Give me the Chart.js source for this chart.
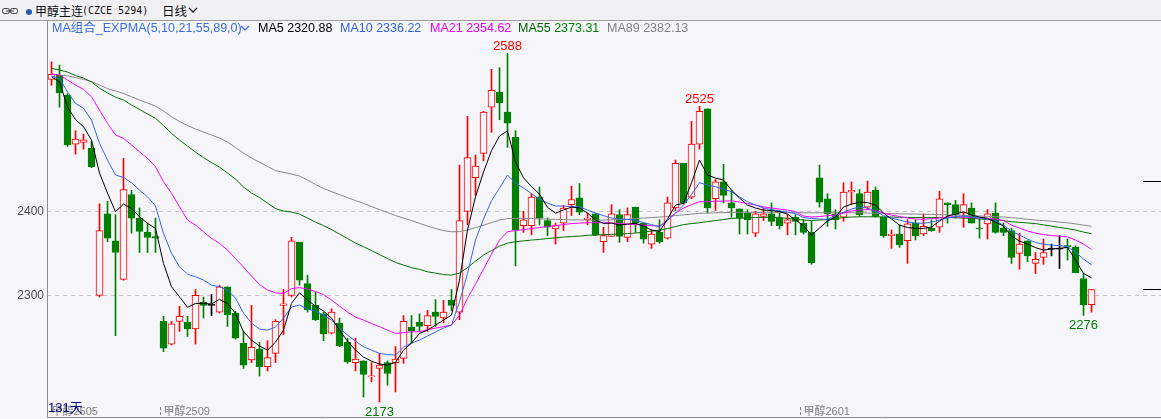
<!DOCTYPE html>
<html lang="zh-CN">
<head>
<meta charset="utf-8">
<title>甲醇主连 日线</title>
<script src="https://cdn.jsdelivr.net/npm/chart.js@4.4.1/dist/chart.umd.min.js"></script>
<style>
  html, body { margin:0; padding:0; background:#f5f5fa; }
  #wrap { position:relative; width:1161px; height:419px; overflow:hidden; background:#f5f5fa;
          font-family:"Liberation Sans","Noto Sans CJK SC",sans-serif; }
  #chart { position:absolute; left:0; top:0; }
  #hdr { position:absolute; left:0; top:0; width:1161px; height:20px; background:#f0f0f2; border-bottom:1px solid #a0a0a0; }
  .t { position:absolute; white-space:nowrap; }
  .hd { top:3px; line-height:16px; height:16px; }
  .lg { top:21px; line-height:14px; height:14px; font-size:12.5px; }
</style>
</head>
<body>
<div id="wrap">
  <canvas id="chart" width="1161" height="419"></canvas>
  <div id="hdr">
    <svg class="t" style="left:2px;top:7px" width="16" height="8" viewBox="0 0 16 8">
      <rect x="0.5" y="1.5" width="7" height="5" rx="2" fill="none" stroke="#333" stroke-width="1"/>
      <rect x="8.5" y="1.5" width="7" height="5" rx="2" fill="none" stroke="#333" stroke-width="1"/>
      <line x1="4" y1="4" x2="12" y2="4" stroke="#333" stroke-width="1"/>
    </svg>
    <svg class="t" style="left:25px;top:8px" width="8" height="8"><circle cx="4" cy="4" r="3" fill="#2a5aa8"/></svg>
    <span class="t hd" style="left:35px;font:12px 'Noto Sans CJK SC';line-height:16px;color:#111">甲醇主连</span>
    <span class="t hd" style="left:82px;font:10px 'DejaVu Sans Mono';line-height:16px;color:#111">(CZCE 5294)</span>
    <span class="t hd" style="left:162px;font:12.5px 'Noto Sans CJK SC';line-height:16px;color:#111">日线</span>
    <svg class="t" style="left:188px;top:7px" width="10" height="7"><polyline points="1,1 5,5 9,1" fill="none" stroke="#222" stroke-width="1.3"/></svg>
  </div>
  <div id="legend"></div>
</div>
<script>
// ---------- data ----------
const opens = [2557,2562,2538,2480,2482,2475,2300,2397,2365,2319,
2420,2392,2375,2370,2269,2242,2269,2268,2260,2292,
2288,2280,2310,2279,2243,2223,2236,2215,2231,2288,
2300,2363,2314,2288,2278,2255,2267,2244,2220,2222,
2203,2213,2220,2220,2225,2262,2268,2264,2280,2273,
2294,2280,2400,2440,2469,2524,2542,2518,2488,2383,
2383,2417,2389,2379,2386,2408,2416,2390,2397,2364,
2370,2396,2369,2405,2386,2361,2375,2368,2404,2457,
2417,2480,2522,2415,2435,2410,2403,2398,2374,2394,
2397,2392,2386,2393,2386,2375,2440,2415,2397,2393,
2423,2421,2405,2425,2393,2371,2373,2365,2386,2373,
2380,2381,2410,2408,2398,2404,2380,2385,2398,2380,
2377,2350,2365,2338,2345,2355,2355,2359,2357,2320,
2289];
const highs = [2578,2574,2540,2496,2492,2483,2409,2412,2396,2463,
2425,2404,2386,2392,2275,2269,2287,2275,2307,2298,
2301,2312,2310,2281,2257,2288,2244,2246,2271,2307,
2369,2363,2324,2304,2280,2284,2273,2249,2249,2222,
2220,2231,2222,2239,2276,2276,2278,2282,2295,2294,
2307,2455,2513,2467,2519,2569,2571,2588,2496,2400,
2421,2429,2392,2386,2407,2430,2433,2398,2398,2381,
2408,2402,2404,2405,2386,2378,2390,2417,2461,2457,
2507,2525,2522,2438,2456,2425,2403,2402,2400,2404,
2410,2401,2396,2396,2390,2388,2455,2421,2402,2434,
2435,2426,2436,2429,2393,2378,2384,2390,2390,2397,
2390,2424,2410,2413,2421,2410,2392,2402,2410,2386,
2380,2374,2365,2351,2367,2361,2371,2367,2359,2326,
2307];
const lows = [2550,2524,2477,2468,2474,2452,2298,2364,2252,2318,
2374,2351,2351,2351,2233,2241,2257,2251,2242,2273,
2276,2279,2263,2248,2213,2220,2204,2210,2220,2253,
2298,2312,2280,2270,2246,2254,2239,2219,2210,2179,
2197,2173,2193,2185,2219,2243,2257,2257,2263,2267,
2282,2271,2384,2419,2460,2494,2509,2476,2335,2375,
2372,2384,2371,2361,2377,2395,2396,2384,2371,2351,
2370,2363,2364,2375,2362,2356,2362,2367,2401,2409,
2415,2474,2398,2401,2410,2393,2373,2373,2370,2389,
2383,2379,2372,2372,2373,2337,2405,2382,2379,2388,
2408,2394,2402,2393,2369,2356,2357,2338,2366,2371,
2376,2375,2386,2392,2381,2386,2368,2367,2374,2371,
2338,2331,2340,2326,2337,2347,2332,2342,2327,2276,
2280];
const closes = [2563,2541,2479,2486,2485,2453,2377,2368,2351,2426,
2392,2376,2369,2368,2237,2266,2275,2260,2300,2288,
2288,2310,2277,2249,2217,2238,2215,2226,2269,2290,
2365,2318,2283,2271,2254,2280,2240,2221,2224,2206,
2204,2217,2207,2224,2269,2258,2263,2276,2275,2280,
2288,2389,2464,2454,2518,2544,2529,2505,2378,2390,
2417,2392,2381,2383,2404,2414,2399,2392,2372,2371,
2397,2370,2396,2386,2367,2373,2364,2410,2457,2410,
2480,2519,2404,2435,2419,2404,2392,2390,2397,2397,
2388,2383,2390,2388,2375,2339,2411,2397,2390,2423,
2425,2396,2423,2394,2371,2373,2360,2385,2371,2382,
2377,2415,2408,2396,2408,2386,2379,2397,2375,2375,
2345,2361,2347,2343,2351,2355,2355,2358,2327,2289,
2307];

const ma5 = [2560.2,2554.2,2524.1,2509.2,2500.7,2484.8,2445.5,2421.7,2399.5,2408.6,
2403.5,2393.5,2385.7,2379.7,2338.0,2310.2,2298.3,2285.7,2290.4,2290.4,
2289.6,2295.2,2290.4,2278.5,2256.6,2246.7,2239.6,2234.8,2244.3,2258.6,
2290.4,2303.0,2294.4,2287.2,2281.3,2272.9,2258.6,2245.5,2234.8,2226.5,
2221.7,2218.2,2217.0,2220.2,2234.8,2243.2,2254.7,2258.6,2264.6,2270.5,
2276.5,2318.2,2377.7,2417.3,2446.7,2472.3,2489.6,2495.9,2458.6,2439.9,
2429.5,2420.5,2404.7,2397.9,2401.5,2405.1,2403.9,2397.9,2389.6,2385.7,
2386.0,2383.6,2384.8,2385.7,2382.4,2377.7,2375.7,2390.8,2407.5,2409.5,
2434.0,2461.0,2443.2,2439.6,2437.2,2425.3,2415.8,2407.5,2403.9,2401.5,
2400.9,2399.7,2396.7,2389.6,2383.0,2371.7,2380.1,2388.4,2393.2,2405.1,
2408.6,2411.0,2410.4,2407.5,2397.9,2390.8,2383.6,2380.7,2379.7,2379.7,
2381.2,2388.4,2394.4,2396.7,2399.5,2395.5,2393.2,2391.6,2387.2,2382.4,
2370.5,2364.6,2361.0,2356.8,2353.9,2355.1,2355.9,2357.1,2342.0,2326.1,
2320.88];
const ma10 = [2561.0,2558.3,2542.3,2528.5,2522.6,2508.6,2480.9,2461.0,2443.2,2440.4,
2434.0,2425.3,2417.3,2406.3,2373.8,2350.0,2334.0,2325.3,2322.1,2318.2,
2312.2,2310.2,2306.3,2296.7,2278.9,2267.0,2259.8,2258.6,2262.2,2272.9,
2286.0,2288.4,2283.6,2281.3,2276.5,2270.5,2261.0,2252.7,2245.5,2238.8,
2234.8,2230.9,2229.5,2228.9,2238.4,2243.2,2246.7,2251.5,2256.3,2261.0,
2264.6,2292.3,2326.1,2365.8,2390.8,2412.6,2427.7,2443.2,2433.6,2427.7,
2421.1,2414.6,2409.8,2406.3,2406.3,2405.7,2405.4,2401.5,2397.9,2394.9,
2392.0,2390.8,2390.4,2389.6,2386.6,2384.2,2381.6,2389.1,2397.9,2407.5,
2420.0,2434.0,2431.3,2429.3,2426.5,2423.3,2417.0,2411.4,2407.5,2403.9,
2402.1,2400.3,2399.1,2397.3,2392.6,2391.4,2390.8,2390.4,2394.4,2399.1,
2402.7,2405.1,2403.9,2400.3,2394.9,2392.0,2389.6,2387.2,2386.0,2385.7,
2387.2,2389.6,2392.0,2393.8,2394.4,2393.2,2392.0,2390.4,2388.4,2383.6,
2376.5,2371.7,2367.0,2362.8,2361.0,2359.8,2359.2,2358.0,2351.5,2343.2,
2336.22];
const ma21 = [2563.4,2562.2,2556.3,2550.3,2545.2,2536.4,2520.5,2504.7,2490.8,2486.8,
2478.9,2470.9,2463.1,2453.0,2435.2,2421.4,2405.4,2389.6,2383.6,2375.7,
2367.8,2361.8,2353.9,2343.8,2333.6,2322.9,2312.8,2306.3,2303.0,2302.3,
2308.0,2309.2,2307.4,2304.5,2300.9,2294.4,2287.2,2280.1,2274.1,2270.5,
2266.4,2262.6,2258.6,2254.7,2255.6,2256.6,2256.6,2259.2,2261.0,2262.8,
2264.6,2276.5,2296.4,2313.4,2331.2,2349.1,2365.8,2375.7,2377.1,2378.3,
2379.5,2380.7,2381.9,2383.0,2384.2,2385.4,2386.0,2386.4,2386.6,2386.4,
2386.0,2385.4,2384.8,2384.2,2383.6,2383.0,2382.4,2389.6,2397.9,2403.9,
2408.0,2411.4,2411.6,2412.0,2412.2,2412.5,2411.0,2409.2,2407.5,2405.4,
2403.9,2402.7,2401.5,2399.7,2394.4,2393.2,2393.8,2394.9,2395.5,2397.9,
2400.3,2401.5,2402.1,2400.9,2397.9,2395.5,2393.8,2392.0,2390.8,2390.4,
2391.4,2392.0,2393.2,2393.5,2393.2,2392.6,2392.0,2391.6,2390.8,2389.0,
2383.6,2380.1,2376.5,2374.1,2372.3,2371.1,2370.5,2369.4,2365.8,2361.0,
2354.62];
const ma55 = [2570.2,2568.2,2565.8,2561.6,2558.6,2553.9,2546.7,2540.8,2536.0,2532.5,
2526.5,2521.4,2515.8,2510.7,2502.1,2492.8,2484.8,2477.7,2470.5,2464.0,
2458.0,2452.7,2445.5,2438.4,2428.9,2421.7,2416.4,2409.8,2403.3,2400.3,
2399.1,2396.7,2392.0,2387.2,2383.0,2378.3,2372.9,2367.6,2362.2,2357.8,
2353.3,2348.5,2343.8,2339.2,2336.0,2333.0,2330.9,2328.0,2326.5,2324.7,
2324.1,2326.5,2333.0,2340.8,2347.9,2353.3,2358.6,2362.2,2363.8,2364.8,
2365.8,2366.6,2367.6,2368.4,2369.4,2370.0,2370.5,2371.5,2371.7,2372.3,
2372.6,2372.9,2373.5,2374.1,2375.3,2376.5,2377.4,2379.5,2381.9,2384.2,
2385.4,2386.4,2387.8,2389.0,2390.2,2391.6,2392.0,2392.2,2392.6,2392.8,
2392.9,2392.8,2391.4,2390.8,2389.6,2389.0,2389.6,2390.2,2391.4,2392.6,
2393.2,2393.5,2393.5,2393.5,2393.4,2393.2,2392.9,2392.8,2392.6,2392.6,
2392.6,2392.6,2392.6,2392.3,2392.0,2391.6,2391.0,2390.4,2390.2,2389.0,
2387.6,2386.9,2386.2,2385.4,2383.9,2382.4,2380.7,2379.5,2377.7,2375.3,
2373.31];
const ma89 = [2563.4,2562.2,2561.3,2559.2,2557.1,2554.5,2550.3,2546.1,2543.2,2540.4,
2536.4,2532.5,2528.9,2525.3,2519.4,2512.6,2506.9,2502.1,2497.9,2494.4,
2490.8,2487.2,2482.4,2475.9,2469.4,2463.4,2458.6,2453.3,2448.5,2446.4,
2444.4,2442.0,2437.2,2431.9,2427.1,2423.5,2419.9,2416.4,2412.8,2409.5,
2405.7,2402.1,2398.6,2395.0,2392.0,2389.0,2385.7,2382.4,2379.5,2377.1,
2375.7,2375.9,2377.7,2380.7,2383.4,2386.6,2389.6,2391.4,2391.6,2391.6,
2391.4,2391.0,2390.8,2390.5,2390.2,2389.9,2389.8,2389.6,2389.6,2389.6,
2389.8,2390.2,2390.4,2391.4,2392.0,2392.6,2393.2,2393.8,2395.0,2395.8,
2396.7,2397.6,2397.9,2398.3,2398.5,2398.8,2398.8,2398.8,2398.6,2398.5,
2398.5,2398.5,2398.5,2398.4,2398.2,2398.2,2398.3,2398.4,2398.4,2398.4,
2398.3,2398.2,2397.9,2397.7,2397.6,2397.3,2397.1,2396.9,2396.7,2396.5,
2396.3,2396.0,2395.8,2395.5,2395.2,2394.8,2394.4,2394.0,2393.6,2393.2,
2392.5,2391.6,2390.5,2389.6,2388.9,2388.2,2387.2,2386.3,2385.1,2383.6,
2382.13];

const yTicks = [2300, 2400];
const xLabelIdx = [0, 14, 94];
const xLabelText = ['甲醇2505', '甲醇2509', '甲醇2601'];
const peakIdx = [57, 81];
const troughIdx = [41, 129];
const rightMarks = [2436, 2307];

// ---------- styles ----------
const BG = '#f5f5fa';
const RED = '#ff0000', GREEN = '#008000', DOJI = '#000000';
const maStyle = [
  { name: 'MA5',  data: ma5,  color: '#000000', text: '#000000' },
  { name: 'MA10', data: ma10, color: '#3366ee', text: '#3366dd' },
  { name: 'MA21', data: ma21, color: '#ff00ff', text: '#ee00ee' },
  { name: 'MA55', data: ma55, color: '#007000', text: '#008000' },
  { name: 'MA89', data: ma89, color: '#888888', text: '#808080' }
];

// ---------- legend (HTML text) ----------
(function buildLegend() {
  const lg = document.getElementById('legend');
  const pos = [258, 340, 430, 518, 607];
  let html = '<span class="t lg" style="left:52px;color:#3a6ee0">MA组合_EXPMA(5,10,21,55,89,0)</span>' +
    '<svg class="t" style="left:240px;top:25px" width="10" height="7"><polyline points="1,1 5,5 9,1" fill="none" stroke="#3a6ee0" stroke-width="1.3"/></svg>';
  maStyle.forEach((m, k) => {
    const last = m.data[m.data.length - 1].toFixed(2);
    const nameColor = m.name === 'MA55' ? '#006000' : m.text;
    html += `<span class="t lg" style="left:${pos[k]}px"><span style="color:${nameColor}">${m.name}</span> <span style="color:${m.text}">${last}</span></span>`;
  });
  lg.innerHTML = html;
})();

// ---------- candles ----------
const N = closes.length;
const cColor = closes.map((c, i) => c > opens[i] ? RED : (c < opens[i] ? GREEN : DOJI));
const bodyFill = closes.map((c, i) => c > opens[i] ? BG : cColor[i]);

const datasets = [];
maStyle.forEach((m, k) => {
  datasets.push({
    type: 'line', label: m.name,
    data: m.data.map((v, i) => ({ x: i, y: v })),
    borderColor: m.color, borderWidth: 1, pointRadius: 0, tension: 0,
    order: k
  });
});
datasets.push({
  type: 'bar', label: 'body',
  data: opens.map((o, i) => ({ x: i, y: [o, closes[i]] })),
  backgroundColor: bodyFill, borderColor: cColor, borderWidth: 1,
  borderSkipped: false, barThickness: 7, maxBarThickness: 7,
  grouped: false, minBarLength: 1, order: 10
});
datasets.push({
  type: 'bar', label: 'wick',
  data: lows.map((l, i) => ({ x: i, y: [l, highs[i]] })),
  backgroundColor: cColor, borderWidth: 0, borderSkipped: false,
  barThickness: 1, maxBarThickness: 1, grouped: false, minBarLength: 1, order: 11
});

const decor = {
  id: 'decor',
  afterDraw(chart) {
    const { ctx, chartArea: a, scales: { x, y } } = chart;
    ctx.save();
    // frame
    ctx.strokeStyle = '#8c8c8c'; ctx.lineWidth = 1; ctx.setLineDash([]);
    ctx.beginPath(); ctx.moveTo(a.left + 0.5, 20); ctx.lineTo(a.left + 0.5, a.bottom); ctx.stroke();
    ctx.beginPath(); ctx.moveTo(a.left, a.bottom - 0.5); ctx.lineTo(a.right, a.bottom - 0.5); ctx.stroke();
    // right-side price marks
    ctx.strokeStyle = '#000';
    rightMarks.forEach(v => {
      const py = Math.round(y.getPixelForValue(v)) + 0.5;
      ctx.beginPath(); ctx.moveTo(a.right - 18, py); ctx.lineTo(a.right, py); ctx.stroke();
    });
    // high / low labels
    ctx.font = '13px "Liberation Sans", sans-serif';
    ctx.textAlign = 'center'; ctx.textBaseline = 'alphabetic';
    ctx.fillStyle = RED;
    peakIdx.forEach(i => ctx.fillText(String(highs[i]), x.getPixelForValue(i), y.getPixelForValue(highs[i]) - 3.5));
    ctx.fillStyle = GREEN;
    troughIdx.forEach(i => ctx.fillText(String(lows[i]), x.getPixelForValue(i), y.getPixelForValue(lows[i]) + 13.5));
    // contract labels on the time axis
    ctx.font = '11px "Liberation Sans", "Noto Sans CJK SC", sans-serif';
    ctx.textAlign = 'left'; ctx.textBaseline = 'middle';
    xLabelIdx.forEach((idx, k) => {
      const bx = Math.round(x.getPixelForValue(idx - 0.5)) + 0.5;
      if (idx > 0) {
        ctx.strokeStyle = '#808080'; ctx.setLineDash([3, 2]);
        ctx.beginPath(); ctx.moveTo(bx, a.bottom - 11); ctx.lineTo(bx, a.bottom - 1); ctx.stroke();
        ctx.setLineDash([]);
      }
      ctx.fillStyle = '#808080';
      ctx.fillText(xLabelText[k], bx + 3, a.bottom - 6.5);
    });
    // day count
    ctx.font = '13px "Liberation Sans", "Noto Sans CJK SC", sans-serif';
    ctx.fillStyle = '#000080';
    ctx.fillText(N + '天', a.left + 1, a.bottom - 10);
    ctx.restore();
  }
};

new Chart(document.getElementById('chart'), {
  type: 'bar',
  data: { datasets },
  options: {
    responsive: false, animation: false, devicePixelRatio: 1, events: [],
    layout: { padding: { top: 37, bottom: 1, left: 0, right: 0 } },
    plugins: { legend: { display: false }, tooltip: { enabled: false } },
    scales: {
      x: { type: 'linear', min: -0.5625, max: 138.6875, display: false, offset: false },
      y: {
        type: 'linear', position: 'left', min: 2154, max: 2607.5,
        afterBuildTicks: s => { s.ticks = yTicks.map(v => ({ value: v })); },
        afterFit: s => { s.width = 47; s.paddingTop = 0; s.paddingBottom = 0; },
        ticks: { padding: 3, color: '#4a4a4a', font: { family: 'Liberation Sans', size: 12 }, callback: v => String(v) },
        grid: { color: '#c4c4c4', lineWidth: 1, drawTicks: false },
        border: { display: false, dash: [4, 4] }
      }
    }
  },
  plugins: [decor]
});
</script>
</body>
</html>
